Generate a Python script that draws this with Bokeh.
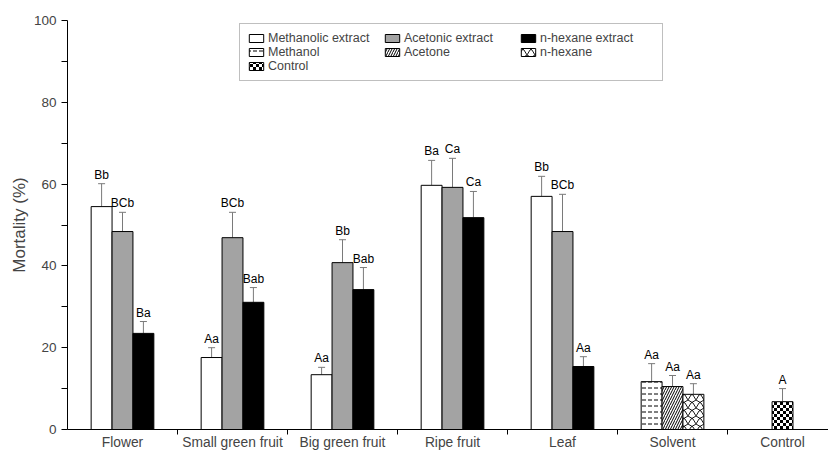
from bokeh.plotting import figure
from bokeh.models import (Range1d, FixedTicker, Whisker, TeeHead, ColumnDataSource,
                          Legend, LegendItem, CanvasTexture)
from bokeh.core.properties import value
from bokeh.embed import file_html
from bokeh.resources import INLINE

# ---- data -------------------------------------------------------------
categories = ["Flower", "Small green fruit", "Big green fruit", "Ripe fruit",
              "Leaf", "Solvent", "Control"]

methanolic = [54.5, 17.6, 13.4, 59.7, 57.0]
methanolic_err = [5.6, 2.4, 1.8, 6.1, 4.9]
methanolic_lbl = ["Bb", "Aa", "Aa", "Ba", "Bb"]

acetonic = [48.4, 46.9, 40.8, 59.2, 48.4]
acetonic_err = [4.7, 6.2, 5.6, 7.1, 9.1]
acetonic_lbl = ["BCb", "BCb", "Bb", "Ca", "BCb"]

hexane = [23.5, 31.1, 34.2, 51.8, 15.4]
hexane_err = [2.9, 3.6, 5.4, 6.4, 2.4]
hexane_lbl = ["Ba", "Bab", "Bab", "Ca", "Aa"]

solvents = ["Methanol", "Acetone", "n-hexane"]
solvent_vals = [11.7, 10.5, 8.6]
solvent_err = [4.4, 2.7, 2.6]
solvent_lbl = ["Aa", "Aa", "Aa"]

control_val = [6.8]
control_err = [3.2]
control_lbl = ["A"]

y_ticks = [0, 20, 40, 60, 80, 100]
y_minor = [10, 30, 50, 70, 90]

# ---- geometry ---------------------------------------------------------
FONT = "Liberation Sans"
W, H = 828, 452
bar_w = 0.19
centers = [i + 0.5 for i in range(len(categories))]
gray = "#a3a3a3"
err_color = "#7a7a7a"

p = figure(width=W, height=H, output_backend="svg", toolbar_location=None,
           x_range=Range1d(0, 6.918), y_range=Range1d(0, 100),
           min_border_left=67, min_border_right=0, min_border_top=20,
           min_border_bottom=23)
p.outline_line_color = None
p.xgrid.visible = False
p.ygrid.visible = False
p.background_fill_color = "white"

# axes
yax = p.yaxis[0]
yax.ticker = FixedTicker(ticks=y_ticks, minor_ticks=y_minor)
yax.axis_label = "Mortality (%)"
yax.axis_label_text_font = FONT
yax.axis_label_text_font_style = "normal"
yax.axis_label_text_font_size = "17px"
yax.axis_label_standoff = 2
yax.major_label_text_font = FONT
yax.major_label_text_font_size = "13.5px"
yax.major_label_standoff = 5
yax.major_tick_out = 6
yax.major_tick_in = 0
yax.minor_tick_out = 6
yax.minor_tick_in = 0
yax.axis_line_color = "black"

# x axis: names at the group centres, separator ticks between groups
xax = p.xaxis[0]
xax.ticker = FixedTicker(ticks=centers, minor_ticks=[1, 2, 3, 4, 5, 6])
xax.major_label_overrides = {c: name for c, name in zip(centers, categories)}
xax.major_label_text_font = FONT
xax.major_label_text_font_size = "13.8px"
xax.major_label_text_line_height = 1.0
xax.major_label_standoff = 0
xax.major_tick_out = 0
xax.major_tick_in = 0
xax.minor_tick_out = 5
xax.minor_tick_in = 0
xax.axis_line_color = "black"

# checkerboard fill for the control bar
checker = CanvasTexture(code="""
const c = ctx.canvas;
c.width = 6;
c.height = 6;
ctx.clearRect(0, 0, 6, 6);
ctx.fillStyle = color;
ctx.fillRect(0, 0, 3, 3);
ctx.fillRect(3, 3, 3, 3);
""")

# curved lattice fill for the n-hexane bar
lattice = CanvasTexture(code="""
const c = ctx.canvas;
c.width = 8;
c.height = 8;
ctx.clearRect(0, 0, 8, 8);
ctx.strokeStyle = color;
ctx.lineWidth = 0.9;
ctx.beginPath();
ctx.moveTo(0, 0);
ctx.quadraticCurveTo(6, 2, 8, 8);
ctx.moveTo(0, 8);
ctx.quadraticCurveTo(2, 2, 8, 0);
ctx.stroke();
""")


def add_errors(xs, tops, errs, labels):
    src = ColumnDataSource(dict(x=xs, lo=tops, hi=[t + e for t, e in zip(tops, errs)],
                                lbl=labels))
    w = Whisker(base="x", lower="lo", upper="hi", source=src,
                line_color=err_color, line_width=1,
                upper_head=TeeHead(size=7, line_color=err_color, line_width=1),
                lower_head=None)
    p.add_layout(w)
    p.text(x="x", y="hi", text="lbl", source=src, text_align="center",
           text_baseline="bottom", y_offset=-2, text_font=value(FONT),
           text_font_size="12px", text_color="black")


# extract bars
series = [
    ("Methanolic extract", methanolic, methanolic_err, methanolic_lbl, "white", -bar_w),
    ("Acetonic extract", acetonic, acetonic_err, acetonic_lbl, gray, 0.0),
    ("n-hexane extract", hexane, hexane_err, hexane_lbl, "black", bar_w),
]
renderers = {}
for name, vals, errs, lbls, color, off in series:
    xs = [centers[i] + off for i in range(len(vals))]
    r = p.vbar(x=xs, top=vals, bottom=0, width=bar_w, fill_color=color,
               line_color="black", line_width=1)
    renderers[name] = r
    add_errors(xs, vals, errs, lbls)

# solvent bars
hatches = [
    dict(hatch_pattern="horizontal_dash", hatch_scale=6, hatch_weight=1),
    dict(hatch_pattern="right_diagonal_line", hatch_scale=5, hatch_weight=1),
    dict(hatch_pattern=value("lattice"), hatch_extra={"lattice": lattice},
         hatch_scale=8),
]
sc = centers[5]
for k, (name, v, h) in enumerate(zip(solvents, solvent_vals, hatches)):
    x = sc + (k - 1) * bar_w
    r = p.vbar(x=[x], top=[v], bottom=0, width=bar_w, fill_color="white",
               line_color="black", line_width=1, hatch_color="black", **h)
    renderers[name] = r
add_errors([sc + (k - 1) * bar_w for k in range(3)], solvent_vals, solvent_err, solvent_lbl)

# control bar
cc = centers[6]
r = p.vbar(x=[cc], top=control_val, bottom=0, width=bar_w, fill_color="white",
           line_color="black", line_width=1, hatch_color="black",
           hatch_pattern=value("checker"), hatch_extra={"checker": checker},
           hatch_scale=6)
renderers["Control"] = r
add_errors([cc], control_val, control_err, control_lbl)

order = ["Methanolic extract", "Acetonic extract", "n-hexane extract",
         "Methanol", "Acetone", "n-hexane", "Control"]
legend = Legend(items=[LegendItem(label=n, renderers=[renderers[n]]) for n in order],
                location=(172, 348), orientation="horizontal", ncols=3,
                border_line_color="#808080", border_line_width=1,
                background_fill_alpha=1, padding=7, spacing=0, margin=0,
                glyph_width=18, glyph_height=10, label_height=12,
                label_width=115, label_standoff=3,
                label_text_font=FONT, label_text_font_size="12.5px")
p.add_layout(legend, "center")

open("out.html", "w").write(file_html(p, INLINE))
